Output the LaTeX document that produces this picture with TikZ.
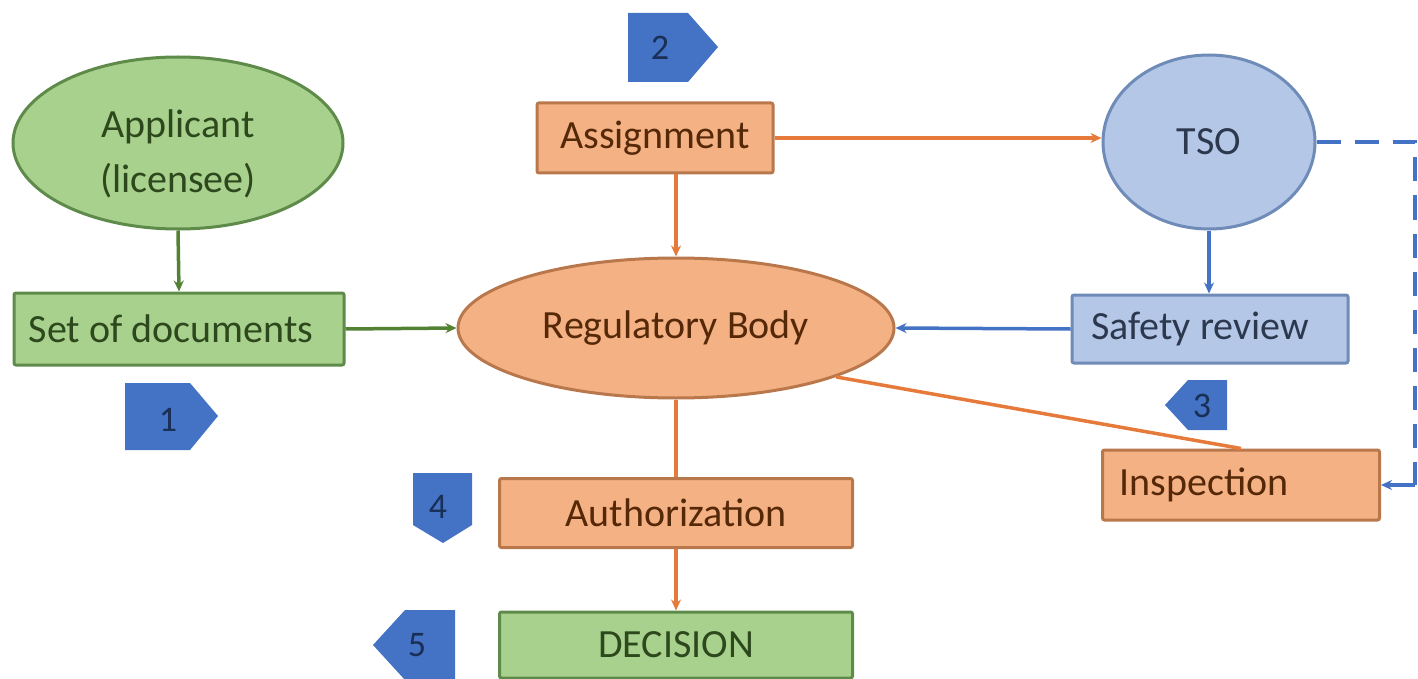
\documentclass[tikz,border=0pt]{standalone}
\usepackage{fontspec}
\setmainfont{Carlito}
\usetikzlibrary{shapes.geometric,arrows.meta}
\definecolor{gfill}{HTML}{A9D18E}
\definecolor{gline}{HTML}{5E8B4A}
\definecolor{gtext}{HTML}{2C481C}
\definecolor{gconn}{HTML}{548235}
\definecolor{ofill}{HTML}{F4B183}
\definecolor{oline}{HTML}{B9774C}
\definecolor{otext}{HTML}{552808}
\definecolor{oconn}{HTML}{E67A3A}
\definecolor{bfill}{HTML}{B4C7E7}
\definecolor{bline}{HTML}{6F8BB8}
\definecolor{btext}{HTML}{2C384E}
\definecolor{bconn}{HTML}{4472C4}
\definecolor{mfill}{HTML}{4472C4}
\definecolor{mtext}{HTML}{1A2F55}
\tikzset{
  lbl/.style={font=\fontsize{40}{55}\selectfont, align=center, inner sep=0pt},
  gbox/.style={lbl, rectangle, rounded corners=2pt, draw=gline, fill=gfill, line width=3pt, text=gtext},
  obox/.style={lbl, rectangle, rounded corners=2pt, draw=oline, fill=ofill, line width=3pt, text=otext},
  bbox/.style={lbl, rectangle, rounded corners=2pt, draw=bline, fill=bfill, line width=3pt, text=btext},
  gell/.style={lbl, ellipse, draw=gline, fill=gfill, line width=3pt, text=gtext},
  oell/.style={lbl, ellipse, draw=oline, fill=ofill, line width=3pt, text=otext},
  bell/.style={lbl, ellipse, draw=bline, fill=bfill, line width=3pt, text=btext},
  tip/.style={-{Stealth[length=11pt,width=10pt]}},
  gc/.style={draw=gconn, line width=3.5pt},
  oc/.style={draw=oconn, line width=3.5pt},
  bc/.style={draw=bconn, line width=3.5pt},
  badge/.style={fill=mfill},
  badgenum/.style={font=\fontsize{36}{40}\selectfont, text=mtext, inner sep=0pt}
}
\begin{document}
\begin{tikzpicture}[x=1pt,y=-1pt]
\useasboundingbox (0,0) rectangle (1418,679);
% nodes
\node[gell, minimum width=330pt, minimum height=172pt] (app) at (178,143) {\raisebox{-17pt}[0pt][0pt]{\begin{tabular}{@{}c@{}}Applicant\\(licensee)\end{tabular}}};
\node[gbox, minimum width=330pt, minimum height=72pt] (docs) at (179,329) {\hspace*{-16pt}Set of documents};
\node[obox, minimum width=236pt, minimum height=70pt] (asg) at (655,138) {Assignment};
\node[oell, minimum width=436pt, minimum height=140pt] (reg) at (676,328) {Regulatory Body};
\node[bell, minimum width=212pt, minimum height=174pt] (tso) at (1209,142) {TSO};
\node[bbox, minimum width=276pt, minimum height=68pt] (saf) at (1210,329) {\hspace*{-20pt}Safety review};
\node[obox, minimum width=277pt, minimum height=70pt] (insp) at (1241,485) {\hspace*{-74pt}Inspection};
\node[obox, minimum width=353pt, minimum height=69pt] (auth) at (676,513) {Authorization};
\node[gbox, minimum width=353pt, minimum height=66pt] (dec) at (676,645) {DECISION};
\coordinate (dr) at (1415,0);
% markers
\fill[badge] (125,383) -- (190,383) -- (218,416) -- (190,450) -- (125,450) -- cycle;
\node[badgenum] (m1) at (168,420) {1};
\fill[badge] (628,13) -- (688,13) -- (718,47) -- (688,82) -- (628,82) -- cycle;
\node[badgenum] (m2) at (660,48) {2};
\fill[badge] (1227,380) -- (1188,380) -- (1165,405) -- (1188,430) -- (1227,430) -- cycle;
\node[badgenum] (m3) at (1202,406) {3};
\fill[badge] (413,473) -- (472,473) -- (472,525) -- (443,543) -- (413,525) -- cycle;
\node[badgenum] (m4) at (438,507) {4};
\fill[badge] (455,610) -- (405,610) -- (373,645) -- (405,680) -- (455,680) -- cycle;
\node[badgenum] (m5) at (417,645) {5};
% connectors
\draw[gc, tip] (app.south) -- (docs.north);
\draw[gc, tip] (docs.east) -- (reg.west);
\draw[oc, tip] (asg.east) -- (asg.east -| tso.west);
\draw[oc, tip] (asg.south -| reg.north) -- (reg.north);
\draw[bc, tip] (tso.south) -- (tso.south |- saf.north);
\draw[bc, tip] (saf.west) -- (reg.east);
\draw[oc] (reg.-17) -- (insp.north);
\draw[oc] (reg.south) -- (auth.north);
\draw[oc, tip] (auth.south) -- (dec.north);
\draw[bc, line width=4pt, dash pattern=on 24pt off 14pt] (tso.east) -- (tso.east -| dr) -- (insp.east -| dr);
\draw[bc, tip] (insp.east -| dr) -- (insp.east);
\end{tikzpicture}
\end{document}
